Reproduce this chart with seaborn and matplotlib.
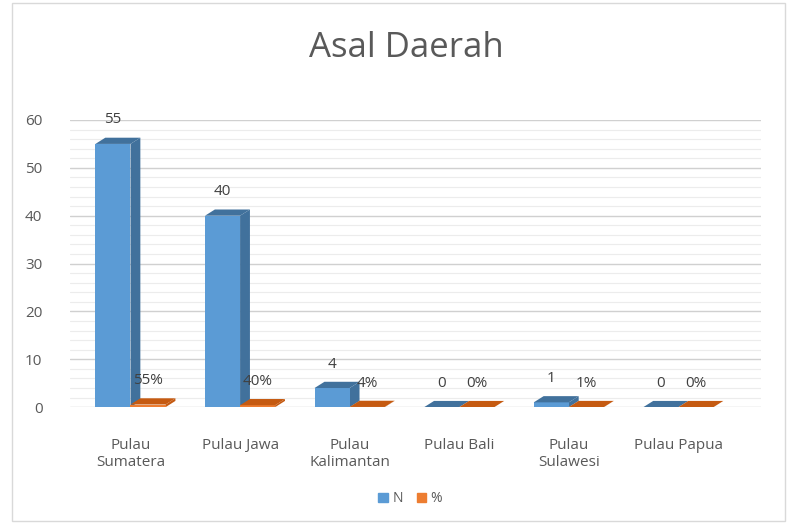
import pandas as pd
import matplotlib.pyplot as plt
import seaborn as sns
from matplotlib.patches import Polygon, Rectangle, Patch

# data
regions = ['Pulau\nSumatera', 'Pulau Jawa', 'Pulau\nKalimantan', 'Pulau Bali', 'Pulau\nSulawesi', 'Pulau Papua']
n_values = [55, 40, 4, 0, 1, 0]
pct_values = [0.55, 0.40, 0.04, 0.00, 0.01, 0.00]
pct_labels = ['55%', '40%', '4%', '0%', '1%', '0%']

df = pd.DataFrame({
    'Daerah': regions * 2,
    'Nilai': n_values + pct_values,
    'Seri': ['N'] * len(regions) + ['%'] * len(regions),
})

colors = {'N': '#5B9BD5', '%': '#ED7D31'}
dark = {'N': '#41719C', '%': '#C55A11'}

sns.set_style('white')
plt.rcParams['font.family'] = ['Open Sans', 'DejaVu Sans']

fig = plt.figure(figsize=(7.89, 5.24), dpi=100)
ax = fig.add_axes([0.089, 0.223, 0.875, 0.548])

sns.barplot(data=df, x='Daerah', y='Nilai', hue='Seri', palette=colors, saturation=1,
            width=0.64, dodge=True, legend=False, ax=ax, zorder=3, linewidth=0)

# fake 3d depth for each bar
dx, dy = 0.09, 1.3
for container, series in zip(ax.containers, ['N', '%']):
    for bar in container:
        x0, w, h = bar.get_x(), bar.get_width(), bar.get_height()
        top = Polygon([(x0, h), (x0 + dx, h + dy), (x0 + w + dx, h + dy), (x0 + w, h)],
                      closed=True, facecolor=dark[series], edgecolor='none', zorder=3)
        side = Polygon([(x0 + w, 0), (x0 + w + dx, dy), (x0 + w + dx, h + dy), (x0 + w, h)],
                       closed=True, facecolor=dark[series], edgecolor='none', zorder=2.9)
        ax.add_patch(top)
        ax.add_patch(side)

# value labels
for bar, v in zip(ax.containers[0], n_values):
    ax.text(bar.get_x() + bar.get_width() / 2, bar.get_height() + 5, str(v),
            ha='center', va='center', fontsize=11, color='#404040', zorder=5)
for bar, lab in zip(ax.containers[1], pct_labels):
    ax.text(bar.get_x() + bar.get_width() / 2, bar.get_height() + 5, lab,
            ha='center', va='center', fontsize=11, color='#404040', zorder=5)

ax.set_ylim(0, 60)
ax.set_xlim(-0.55, 5.75)
ax.set_yticks(range(0, 61, 10))
ax.set_yticks(range(0, 61, 2), minor=True)
ax.grid(axis='y', which='major', color='#d0d0d0', linewidth=1.0, zorder=0)
ax.grid(axis='y', which='minor', color='#ececec', linewidth=0.8, zorder=0)
ax.set_axisbelow(True)
for s in ax.spines.values():
    s.set_visible(False)
ax.tick_params(axis='both', length=0, labelsize=11, labelcolor='#595959')
ax.tick_params(axis='x', pad=22)
ax.tick_params(axis='y', pad=20)
ax.set_xlabel('')
ax.set_ylabel('')

fig.suptitle('Asal Daerah', y=0.94, x=0.515, fontsize=25, color='#595959')

handles = [Patch(color=colors['N'], label='N'), Patch(color=colors['%'], label='%')]
fig.legend(handles=handles, loc='center', bbox_to_anchor=(0.52, 0.048), ncol=2,
           frameon=False, fontsize=10, handlelength=0.7, handleheight=0.7,
           handletextpad=0.3, columnspacing=1.0, labelcolor='#595959')

# chart border
fig.patches.append(Rectangle((0.015, 0.005), 0.98, 0.99, transform=fig.transFigure,
                             fill=False, edgecolor='#d9d9d9', linewidth=1))

plt.savefig('out.png', dpi=100)
